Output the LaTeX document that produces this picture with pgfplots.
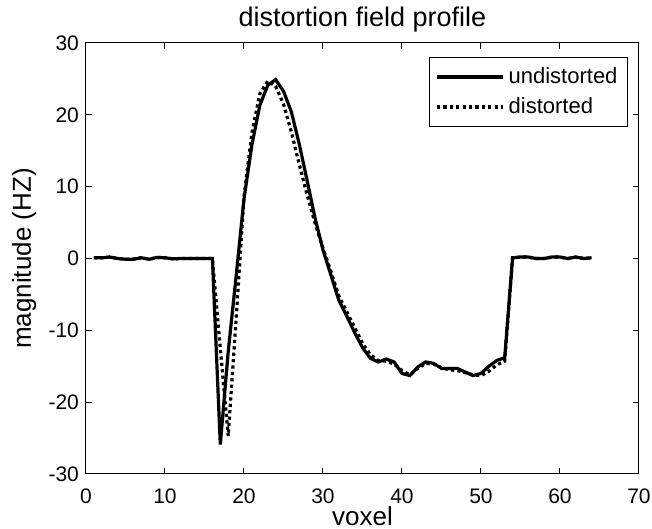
\documentclass[border=0pt]{standalone}
\usepackage{pgfplots}
\pgfplotsset{compat=1.18}
\usepackage{fontspec}
\setmainfont{Liberation Sans}

\begin{document}
\begin{tikzpicture}
% page is 652x529 px at 0.5pt per px
\useasboundingbox (-43pt,-27.5pt) rectangle (283pt,237pt);
\begin{axis}[
    scale only axis,
    width=276.5pt, height=215.5pt,
    xmin=0, xmax=70, ymin=-30, ymax=30,
    xtick={0,10,...,70}, ytick={-30,-20,...,30},
    tick align=inside, major tick length=3pt,
    tick style={black, line width=0.5pt},
    axis line style={black, line width=0.5pt},
    /pgf/number format/assume math mode=true,
    ticklabel style={font=\fontsize{10.5}{12}\selectfont},
    xticklabel style={yshift=-4pt},
    title={distortion field profile},
    title style={font=\fontsize{13.5}{15}\selectfont, at={(0.5,1)}, anchor=base, yshift=2pt},
    xlabel={voxel},
    xlabel style={font=\fontsize{13}{15}\selectfont, at={(0.5,0)}, anchor=base, yshift=-25.5pt},
    ylabel={magnitude (HZ)},
    ylabel style={font=\fontsize{13}{15}\selectfont, at={(axis description cs:-0.112,0.5)}, anchor=center},
    legend style={at={(1,1)}, anchor=north east, xshift=-5.5pt, yshift=-7pt,
        draw=black, line width=0.5pt, font=\fontsize{11}{13}\selectfont,
        cells={anchor=west}, inner xsep=3pt, inner ysep=3pt, row sep=1.5pt},
    legend image code/.code={\draw[#1] (0pt,0pt) -- (33pt,0pt);},
]
\addplot[black, line width=1.6pt] coordinates {
(1,0.1)(2,0.1)(3,0.2)(4,0.0)(5,-0.1)(6,-0.1)(7,0.1)(8,-0.1)(9,0.15)(10,0.1)
(11,-0.05)(12,0)(13,0)(14,0)(15,0)(16,0)(17,-25.9)(18,-13)(19,-2.5)(20,8.3)
(21,15.8)(22,21.3)(23,24.1)(24,24.9)(25,23.3)(26,20.4)(27,15.9)(28,10.8)(29,5.6)(30,1.2)
(31,-2.3)(32,-5.8)(33,-8.0)(34,-10.3)(35,-12.4)(36,-13.9)(37,-14.4)(38,-14.0)(39,-14.4)(40,-16.0)
(41,-16.3)(42,-15.1)(43,-14.4)(44,-14.6)(45,-15.3)(46,-15.3)(47,-15.3)(48,-15.8)(49,-16.3)(50,-16.0)
(51,-15.0)(52,-14.2)(53,-13.8)(54,0.1)(55,0.2)(56,0.2)(57,0.0)(58,0.0)(59,0.2)(60,0.2)
(61,0.0)(62,0.2)(63,0.0)(64,0.1)};
\addlegendentry{undistorted}
\addplot[black, line width=1.6pt, dash pattern=on 1.6pt off 1.6pt] coordinates {
(1,0.1)(2,0.1)(3,0.2)(4,0.0)(5,-0.1)(6,-0.1)(7,0.1)(8,-0.1)(9,0.15)(10,0.1)
(11,-0.05)(12,0)(13,0)(14,0)(15,0)(16,0)(17,-12.5)(18,-24.7)(19,-8.5)(20,8.6)
(21,17.5)(22,22.9)(23,24.7)(24,24.0)(25,21.5)(26,17.6)(27,13.1)(28,8.8)(29,4.9)(30,1.4)
(31,-1.8)(32,-5.2)(33,-7.4)(34,-9.6)(35,-11.8)(36,-13.4)(37,-14.2)(38,-14.3)(39,-14.7)(40,-15.6)
(41,-16.2)(42,-15.3)(43,-14.6)(44,-14.7)(45,-15.2)(46,-15.5)(47,-15.6)(48,-15.9)(49,-16.2)(50,-16.3)
(51,-15.7)(52,-14.8)(53,-14.3)(54,0.1)(55,0.2)(56,0.2)(57,0.0)(58,0.0)(59,0.2)(60,0.2)
(61,0.0)(62,0.2)(63,0.0)(64,0.1)};
\addlegendentry{distorted}
\end{axis}
\end{tikzpicture}
\end{document}
